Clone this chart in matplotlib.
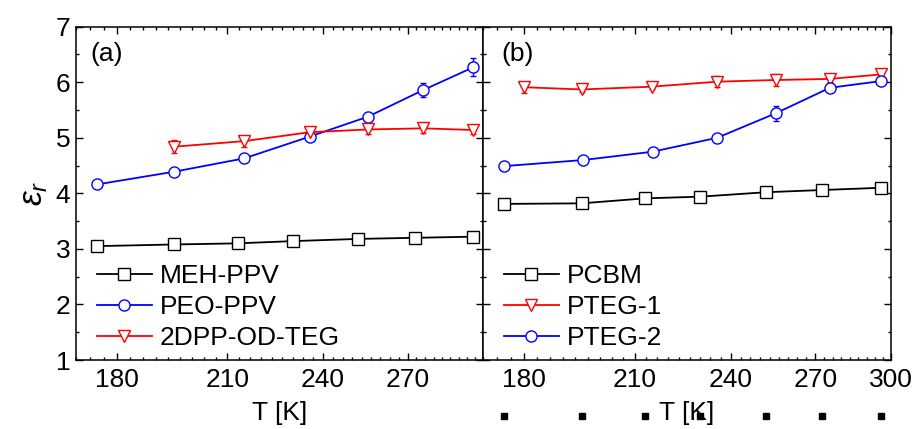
import numpy as np
import matplotlib
matplotlib.use('Agg')
import matplotlib.pyplot as plt
from matplotlib.lines import Line2D
from matplotlib.ticker import FixedLocator, FixedFormatter, MultipleLocator

plt.rcParams['font.family'] = ['Liberation Sans', 'DejaVu Sans']
plt.rcParams['mathtext.fontset'] = 'custom'
plt.rcParams['mathtext.it'] = 'Liberation Sans:italic'
plt.rcParams['mathtext.rm'] = 'Liberation Sans'

# panel (a)
T_meh = [175, 195, 213, 230, 252, 273, 296]
eps_meh = [3.05, 3.08, 3.10, 3.14, 3.18, 3.20, 3.22]
T_peo = [175, 195, 215, 235.5, 255.5, 276, 296]
eps_peo = [4.16, 4.39, 4.63, 5.02, 5.38, 5.86, 6.27]
err_peo = [0.03, 0.04, 0.04, 0.04, 0.06, 0.13, 0.16]
T_dpp = [195, 215, 235.5, 255.5, 276, 296]
eps_dpp = [4.84, 4.94, 5.10, 5.15, 5.17, 5.14]
err_dpp = [0.12, 0.10, 0.08, 0.09, 0.08, 0.08]

# panel (b)
T_pcbm = [175, 195, 213, 230, 252, 272.5, 295.7]
eps_pcbm = [3.81, 3.82, 3.91, 3.94, 4.02, 4.06, 4.10]
T_pteg1 = [180, 195, 215, 235.5, 255.5, 275.5, 295.7]
eps_pteg1 = [5.91, 5.87, 5.92, 6.01, 6.04, 6.06, 6.14]
err_pteg1 = [0.1, 0.04, 0.04, 0.1, 0.1, 0.05, 0.1]
T_pteg2 = [175, 195.5, 215.3, 235.5, 255.5, 275.5, 295.7]
eps_pteg2 = [4.49, 4.60, 4.75, 5.00, 5.44, 5.90, 6.02]
err_pteg2 = [0.03, 0.03, 0.04, 0.04, 0.14, 0.08, 0.05]
# stray points sitting below panel (b)
eps_stray = [0, 0, 0, 0, 0, 0, 0]

xticks = [180, 210, 240, 270, 300]

fig = plt.figure(figsize=(9.16, 4.29), dpi=100)
ax1 = fig.add_axes([0.083, 0.1608, 0.4443, 0.777])
ax2 = fig.add_axes([0.5273, 0.1608, 0.4454, 0.777])

fs = 19
mk = dict(markersize=8, markerfacecolor='white', markeredgewidth=1.0, linewidth=1.3)
eb = dict(capsize=2.5, elinewidth=1.0, capthick=1.0)

ax1.plot(T_meh, eps_meh, 's-', color='black', **mk)
ax1.errorbar(T_peo, eps_peo, yerr=err_peo, fmt='o-', color='#0000ff', **mk, **eb)
ax1.errorbar(T_dpp, eps_dpp, yerr=err_dpp, fmt='v-', color='#ff0000', **mk, **eb)

ax2.plot(T_pcbm, eps_pcbm, 's-', color='black', **mk)
ax2.errorbar(T_pteg1, eps_pteg1, yerr=err_pteg1, fmt='v-', color='#ff0000', **mk, **eb)
ax2.errorbar(T_pteg2, eps_pteg2, yerr=err_pteg2, fmt='o-', color='#0000ff', **mk, **eb)
ax2.plot(T_pcbm, eps_stray, 's', color='black', markersize=5, clip_on=False)

for ax in (ax1, ax2):
    ax.set_xscale('log')
    ax.set_xlim(170, 300)
    ax.set_ylim(1, 7)
    ax.xaxis.set_major_locator(FixedLocator(xticks))
    ax.xaxis.set_minor_locator(FixedLocator(np.arange(170, 301, 10 / 3)))
    ax.yaxis.set_major_locator(MultipleLocator(1))
    ax.yaxis.set_minor_locator(MultipleLocator(0.5))
    ax.tick_params(which='both', direction='in', top=True, right=True, labelsize=fs, width=1.0)
    ax.tick_params(which='major', length=5, pad=6)
    ax.tick_params(which='minor', length=2.5)
    for s in ax.spines.values():
        s.set_linewidth(1.1)
    ax.set_xlabel('T [K]', fontsize=fs, labelpad=6)

ax1.xaxis.set_major_formatter(FixedFormatter(['180', '210', '240', '270', '']))
ax1.xaxis.set_minor_formatter(FixedFormatter([]))
ax2.xaxis.set_major_formatter(FixedFormatter([str(t) for t in xticks]))
ax2.xaxis.set_minor_formatter(FixedFormatter([]))
ax2.tick_params(labelleft=False)
ax1.tick_params(axis='y', pad=4)

ax1.set_ylabel(r'$\varepsilon_r$', fontsize=24, labelpad=4)

ax1.text(0.035, 0.955, '(a)', transform=ax1.transAxes, fontsize=fs, va='top')
ax2.text(0.045, 0.955, '(b)', transform=ax2.transAxes, fontsize=fs, va='top')


def handle(m, c):
    return Line2D([], [], marker=m, color=c, **mk)


leg_a = [handle('s', 'black'), handle('o', '#0000ff'), handle('v', '#ff0000')]
leg_b = [handle('s', 'black'), handle('v', '#ff0000'), handle('o', '#0000ff')]
for ax, h, l in ((ax1, leg_a, ['MEH-PPV', 'PEO-PPV', '2DPP-OD-TEG']),
                 (ax2, leg_b, ['PCBM', 'PTEG-1', 'PTEG-2'])):
    ax.legend(h, l, loc='lower left', bbox_to_anchor=(0.005, -0.025), frameon=False,
              fontsize=fs, handlelength=2.1, handletextpad=0.3, labelspacing=0.26,
              borderaxespad=0.3)

fig.savefig('out.png', dpi=100)
